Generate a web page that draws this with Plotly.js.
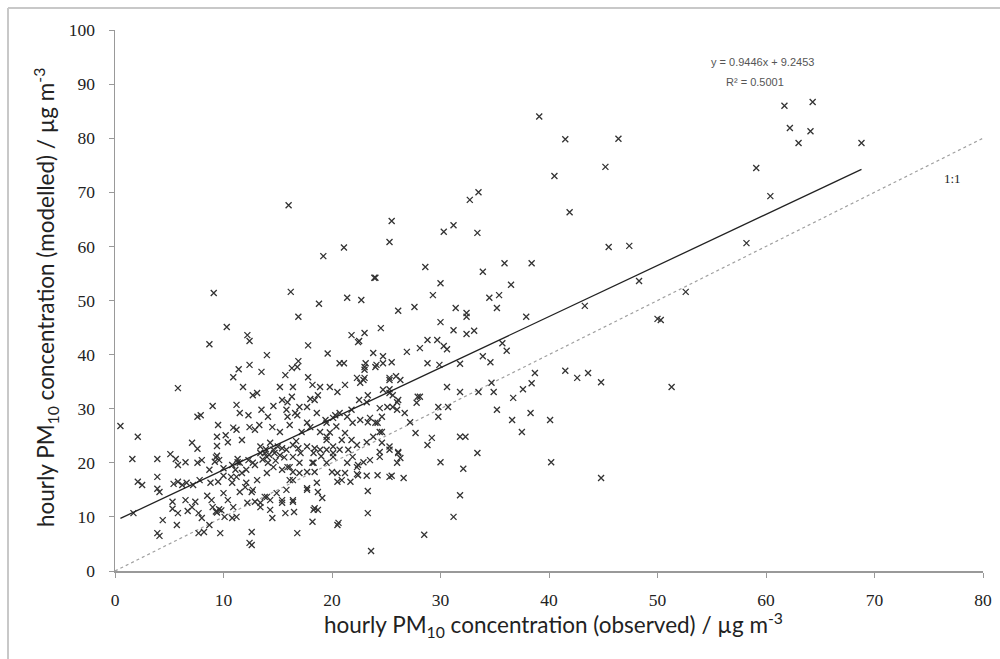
<!DOCTYPE html>
<html>
<head>
<meta charset="utf-8">
<script src="https://cdn.plot.ly/plotly-3.0.1.min.js"></script>
<style>html,body{margin:0;padding:0;background:#fff;}#chart{width:1000px;height:659px;}</style>
</head>
<body>
<div id="chart"></div>
<script>
// observed (x) / modelled (y) hourly PM10 pairs
const obsX = [
39.1,41.5,46.4,40.5,45.2,41.9,33.5,32.7,16.0,25.5,25.3,30.3,31.2,33.4,45.5,47.4,28.6,33.9,35.9,38.4,
24.0,30.0,36.5,29.3,34.5,35.4,35.2,48.3,43.3,22.7,26.1,27.6,31.4,32.4,32.4,37.9,30.0,24.5,23.0,22.4,
31.2,32.4,33.1,28.8,29.7,30.3,30.6,35.7,36.1,25.5,26.9,28.1,28.8,29.9,31.8,33.9,34.6,38.7,41.5,42.6,
43.6,44.8,30.6,31.8,33.5,34.7,34.9,36.7,37.6,38.4,27.9,27.8,29.8,30.7,35.2,36.6,38.3,40.1,37.5,29.8,
27.7,29.2,28.8,31.8,32.3,33.4,30.0,40.2,32.1,44.8,31.8,31.2,28.5,23.3,23.3,22.3,23.2,24.2,25.5,26.6,
22.9,26.3,26.7,27.2,24.6,25.3,26.1,
61.7,64.3,62.2,64.1,63.0,68.8,59.1,60.4,58.2,52.6,50.0,50.3,51.3,
10.3,8.7,11.4,10.9,5.8,9.0,11.2,7.6,7.9,0.5,2.1,9.5,10.9,11.2,9.4,10.2,7.1,7.6,9.4,10.4,
1.6,3.9,5.1,5.6,5.8,6.5,7.6,8.0,9.4,9.3,9.6,9.2,8.7,10.0,10.8,11.3,2.1,2.5,3.9,3.9,
4.1,5.4,5.8,6.2,6.6,7.2,7.8,8.8,9.5,10.0,10.7,11.1,1.7,4.4,3.9,4.1,5.3,5.3,5.8,6.5,
6.7,7.1,5.7,7.4,7.7,8.0,7.7,8.2,8.7,9.7,8.5,8.9,9.0,9.3,9.6,9.4,9.8,10.0,10.4,10.1,
10.8,11.2,10.9,
19.2,21.1,23.9,9.1,16.2,18.8,21.4,16.9,12.2,12.4,14.0,17.8,19.6,21.8,22.5,20.7,21.1,23.8,24.7,16.9,
12.4,13.5,11.8,12.7,13.1,15.7,16.3,16.8,17.8,18.2,18.9,15.2,16.4,15.4,15.9,16.3,18.0,18.7,19.8,20.5,
21.2,22.3,22.6,23.0,23.0,24.1,24.7,25.3,25.9,24.7,
12.3,13.5,17.7,18.4,16.6,19.4,20.3,21.8,22.5,12.4,12.9,14.5,15.2,16.1,17.2,18.0,18.9,19.5,21.2,21.8,
11.7,13.4,13.8,14.3,14.7,15.4,16.4,16.9,18.4,19.5,20.1,20.9,21.9,22.4,11.3,12.3,12.9,14.1,15.9,16.4,
17.0,17.7,18.4,18.2,16.1,17.7,18.7,19.1,20.0,20.5,21.2,21.7,22.4,11.7,12.0,11.5,12.6,12.9,13.8,14.3,
12.2,13.4,15.4,16.4,14.5,15.7,16.5,18.4,18.7,18.2,20.6,12.6,12.6,
23.1,24.0,23.0,22.9,25.3,26.3,25.3,25.6,26.1,25.6,26.0,28.1,23.2,24.4,23.3,23.3,24.0,24.6,24.4,24.4,
26.1,23.6,
11.5,13.3,14.1,14.6,15.8,15.9,16.8,17.0,17.7,18.6,19.5,20.1,20.7,21.4,21.9,22.6,23.5,24.2,25.1,26.0,
25.3,24.6,23.8,23.2,22.3,21.5,20.7,20.1,19.5,18.9,18.3,17.7,17.1,16.4,15.8,15.2,14.6,14.0,13.4,12.7,
12.1,11.5,11.2,10.8,12.1,13.1,14.0,14.6,15.4,16.1,17.0,18.3,19.5,20.1,21.4,22.3,23.5,24.4,25.3,26.0,
25.3,20.9,20.5,18.6,17.7,16.4,15.8,14.9,14.0,12.7,13.4,14.3,15.4,16.4,18.3,20.5,16.8,12.4,
13.9,14.2,15.0,13.6,14.8,15.6,16.7,19.0,19.8,20.4
];
const modY = [
84.0,79.8,79.9,73.0,74.7,66.3,70.0,68.6,67.6,64.7,60.8,62.7,63.9,62.5,59.9,60.1,56.2,55.3,56.9,56.9,
54.2,53.2,52.9,51.0,50.5,51.0,48.6,53.6,49.0,50.1,48.1,48.8,48.6,47.7,47.0,47.0,46.0,44.9,44.0,42.3,
44.5,43.8,44.4,42.7,42.7,41.6,41.0,42.1,40.7,38.6,40.5,41.2,38.4,38.1,38.3,39.7,38.6,36.6,37.0,35.7,
36.6,34.9,34.0,33.1,33.1,34.8,33.1,32.0,33.6,34.7,32.2,31.1,30.3,30.3,29.8,27.9,29.2,27.9,25.7,28.5,
25.5,24.6,23.3,24.8,24.8,21.8,20.1,20.1,18.9,17.2,14.0,10.0,6.7,14.8,10.7,17.9,17.6,17.7,17.6,17.2,
20.1,20.9,29.2,27.5,23.7,23.0,21.8,
86.0,86.7,81.9,81.3,79.1,79.1,74.5,69.3,60.6,51.6,46.6,46.4,34.0,
45.1,41.9,37.3,35.8,33.8,30.5,30.7,28.5,28.8,26.8,24.8,27.0,26.5,26.1,24.8,25.1,23.7,22.6,23.1,23.8,
20.7,20.7,21.6,20.7,19.6,20.1,20.0,20.5,21.3,21.0,20.5,20.2,18.7,19.0,19.6,20.7,16.5,15.9,17.4,15.2,
14.6,16.1,16.5,15.9,16.3,15.9,16.8,16.3,16.5,17.6,17.4,18.7,10.7,9.4,7.0,6.5,12.8,11.5,10.7,13.1,
11.1,11.8,8.5,12.8,10.7,9.8,7.0,7.2,8.5,7.0,13.9,13.1,11.8,11.0,11.4,10.8,11.2,14.4,13.1,10.0,
9.8,10.0,11.8,
58.2,59.8,54.2,51.4,51.6,49.4,50.5,47.0,43.6,42.5,39.9,41.7,40.2,43.6,42.5,38.4,38.4,40.3,39.7,38.8,
38.1,36.8,34.0,32.5,32.9,36.2,37.5,37.7,35.8,34.4,34.0,34.0,34.0,31.6,31.2,32.2,31.8,32.5,34.0,33.1,
34.4,35.7,34.8,35.7,37.7,38.1,38.4,35.7,36.0,33.5,
28.8,29.8,30.3,31.6,29.2,27.9,28.8,29.8,31.6,26.6,26.1,26.6,25.7,27.0,25.7,26.6,25.7,24.8,25.5,24.2,
24.2,23.0,21.8,23.7,21.8,22.7,21.1,22.7,22.7,22.4,21.8,24.2,21.1,19.6,20.1,20.5,19.6,20.0,19.2,18.3,
18.1,18.3,18.3,20.0,16.8,15.3,14.6,13.5,18.3,16.5,18.1,16.5,17.7,18.1,15.5,14.6,14.6,12.8,13.7,13.1,
12.6,11.8,13.1,12.8,9.8,10.7,10.9,11.6,11.3,9.1,8.9,7.2,4.8,
38.4,37.7,37.2,35.3,35.3,35.3,33.6,32.5,31.6,30.3,29.8,32.2,31.2,30.1,32.5,27.5,27.4,28.5,25.7,22.0,
22.0,3.7,
29.2,27.0,28.5,30.5,29.8,28.5,28.8,30.3,27.4,29.2,27.4,28.3,29.2,28.5,27.4,27.9,28.3,27.4,30.3,31.2,
32.9,25.7,24.8,23.8,23.3,22.4,22.4,23.0,24.2,22.4,21.8,23.0,21.8,23.3,22.4,21.4,22.4,21.1,21.8,20.0,
18.7,20.0,17.4,16.3,16.3,16.8,18.1,19.2,18.7,19.2,20.0,20.0,20.0,21.1,20.0,19.2,20.5,21.1,22.4,20.0,
17.4,16.8,18.1,16.3,15.0,16.8,15.0,14.4,13.7,15.0,12.6,11.3,12.6,13.1,11.3,8.5,7.0,5.2,
22.5,21.5,23.0,20.6,20.4,21.0,24.0,21.2,25.6,26.7
];

// linear fit shown on the chart and the 1:1 reference
const fitSlope = 0.9446;
const fitIntercept = 9.2453;
const fitR2 = 0.5001;
const fitRangeX = [Math.min(...obsX), Math.max(...obsX)];
const oneToOneX = [0, 80];
const oneToOneY = [0, 80];

const xTitle = 'hourly PM<sub>10</sub> concentration (observed) / µg m<sup>-3</sup>';
const yTitle = 'hourly PM<sub>10</sub> concentration (modelled) / µg m<sup>-3</sup>';

const fitY = fitRangeX.map(v => fitSlope * v + fitIntercept);

const traces = [
  {
    x: oneToOneX, y: oneToOneY, type: 'scatter', mode: 'lines',
    line: {color: '#a0a0a0', width: 1.2, dash: 'dot'}, hoverinfo: 'skip'
  },
  {
    x: obsX, y: modY, type: 'scatter', mode: 'markers',
    marker: {symbol: 'x-thin', size: 6, color: '#333', line: {color: '#333', width: 1.3}}
  },
  {
    x: fitRangeX, y: fitY, type: 'scatter', mode: 'lines',
    line: {color: '#222', width: 1.3}, hoverinfo: 'skip'
  }
];

const tickFont = {family: '"Liberation Serif", "DejaVu Serif", serif', size: 17.5, color: '#222'};
const titleFont = {family: 'Lato', size: 22.5, color: '#222'};

const layout = {
  width: 1000, height: 659,
  margin: {l: 115, r: 17, t: 30, b: 88},
  paper_bgcolor: '#fff', plot_bgcolor: '#fff',
  showlegend: false,
  xaxis: {
    range: [0, 80], tick0: 0, dtick: 10,
    ticks: 'outside', ticklen: 5, tickcolor: '#999', tickwidth: 1,
    showline: true, linecolor: '#999', linewidth: 1.5,
    showgrid: false, zeroline: false,
    tickfont: tickFont, ticklabelstandoff: 7,
    automargin: false
  },
  yaxis: {
    range: [0, 100], tick0: 0, dtick: 10,
    ticks: 'outside', ticklen: 5, tickcolor: '#999', tickwidth: 1,
    showline: true, linecolor: '#999', linewidth: 1.5,
    showgrid: false, zeroline: false,
    tickfont: tickFont, ticklabelstandoff: 10,
    automargin: false
  },
  annotations: [
    {x: (553 - 115) / 868, y: (571 - 624) / 541, xref: 'paper', yref: 'paper',
     xanchor: 'center', yanchor: 'middle', showarrow: false,
     text: xTitle, font: titleFont},
    {x: (45 - 115) / 868, y: (571 - 298) / 541, xref: 'paper', yref: 'paper',
     xanchor: 'center', yanchor: 'middle', showarrow: false, textangle: -90,
     text: yTitle, font: titleFont},
    {x: 59.7, y: 94.1, xref: 'x', yref: 'y', showarrow: false,
     text: 'y = ' + fitSlope.toFixed(4) + 'x + ' + fitIntercept.toFixed(4),
     font: {family: 'Liberation Sans', size: 11, color: '#555'}},
    {x: 59.0, y: 90.4, xref: 'x', yref: 'y', showarrow: false,
     text: 'R² = ' + fitR2.toFixed(4),
     font: {family: 'Liberation Sans', size: 11, color: '#555'}},
    {x: 77.2, y: 72.6, xref: 'x', yref: 'y', showarrow: false,
     text: '1:1', font: {family: '"Liberation Serif", serif', size: 13, color: '#222'}}
  ],
  shapes: [
    {type: 'line', xref: 'paper', yref: 'paper',
     x0: (8 - 115) / 868, x1: (1000 - 115) / 868, y0: (659 - 8 - 88) / 541, y1: (659 - 8 - 88) / 541,
     line: {color: '#c8c8c8', width: 2}},
    {type: 'line', xref: 'paper', yref: 'paper',
     x0: (8 - 115) / 868, x1: (8 - 115) / 868, y0: (659 - 8 - 88) / 541, y1: -88 / 541,
     line: {color: '#c8c8c8', width: 2}}
  ]
};

Plotly.newPlot('chart', traces, layout, {displayModeBar: false, staticPlot: true});
</script>
</body>
</html>
